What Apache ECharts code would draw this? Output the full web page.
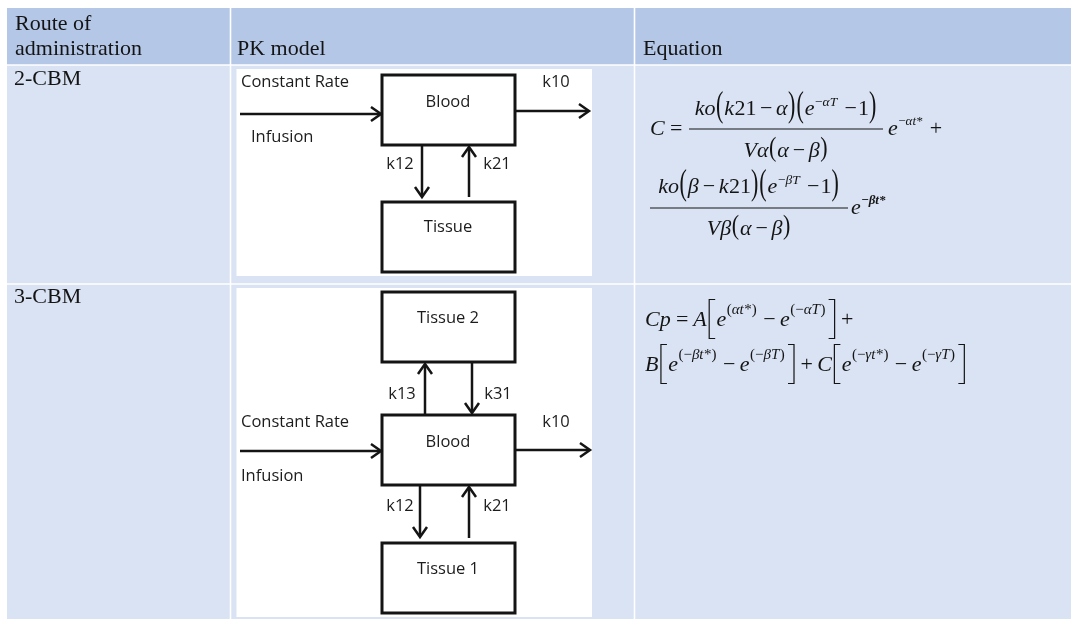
<!DOCTYPE html>
<html><head><meta charset="utf-8">
<script src="https://cdn.jsdelivr.net/npm/echarts@6/dist/echarts.min.js"></script>
<style>html,body{margin:0;padding:0;background:#fff}#c{width:1071px;height:619px}</style>
</head><body><div id="c"></div>
<script>
// ---------- content (text only) ----------
const headerCells = [["Route of", "administration"], ["PK model"], ["Equation"]];
const rowLabels = ["2-CBM", "3-CBM"];
const inputLabels = ["Constant Rate", "Infusion"];
const boxes2CBM = ["Blood", "Tissue"];
const rates2CBM = ["k10", "k12", "k21"];
const boxes3CBM = ["Tissue 2", "Blood", "Tissue 1"];
const rates3CBM = ["k13", "k31", "k10", "k12", "k21"];
const eq2CBM = ["C=", "ko(k21−α)(e^{−αT} −1)", "Vα(α−β)", "e^{−αt*} +",
                "ko(β−k21)(e^{−βT} −1)", "Vβ(α−β)", "e^{−βt*}"];
const eq3CBM = ["Cp=A[e^{(αt*)}−e^{(−αT)}]+", "B[e^{(−βt*)}−e^{(−βT)}]+C[e^{(−γt*)}−e^{(−γT)}]"];

// ---------- helpers ----------
const SERIF = "'Liberation Serif','Times New Roman',serif";
const SANS = "'Open Sans','Noto Sans',sans-serif";
const INK = '#141414';
const HEAD_BG = '#b4c7e7', BODY_BG = '#dae3f3';
const mc = document.createElement('canvas').getContext('2d');
function fnt(sz, it, bd, fam) { return (it ? 'italic' : 'normal') + ' ' + (bd ? 'bold' : 'normal') + ' ' + sz + 'px ' + fam; }
function W(t, f) { mc.font = f; mc.textBaseline = 'alphabetic'; return mc.measureText(t).width; }
function midOff(f) {
  mc.font = f; mc.textBaseline = 'alphabetic';
  const a = mc.measureText('H').actualBoundingBoxAscent;
  mc.textBaseline = 'middle';
  const b = mc.measureText('H').actualBoundingBoxAscent;
  mc.textBaseline = 'alphabetic';
  return a - b;
}
function txt(text, x, baseline, sz, it, bd, fam, align) {
  const f = fnt(sz, it, bd, fam);
  return { type: 'text', x: x, y: baseline - midOff(f), silent: true,
    style: { text: text, fontSize: sz, fontStyle: it ? 'italic' : 'normal', fontWeight: bd ? 'bold' : 'normal',
      fontFamily: fam, fill: INK, align: align || 'left', verticalAlign: 'middle' } };
}
function label(text, x, cy, align) {
  return { type: 'text', x: x, y: cy, silent: true,
    style: { text: text, fontSize: 16.5, fontFamily: SANS, fill: '#1c1c1c', align: align || 'center', verticalAlign: 'middle' } };
}

// ---- equation layout ----
const OPS = '−+=';
function tokenize(str, inSup) {
  const toks = []; let i = 0;
  while (i < str.length) {
    const c = str[i];
    if (c === '^' && str[i + 1] === '{') { const j = str.indexOf('}', i); toks.push({ k: 'sup', t: str.slice(i + 2, j) }); i = j + 1; continue; }
    if (!inSup && (c === '(' || c === ')')) toks.push({ k: 'paren', t: c });
    else if (c === '[' || c === ']') toks.push({ k: 'brk', t: c });
    else if (OPS.includes(c)) toks.push({ k: inSup ? 'rm' : 'op', t: c });
    else if (c === ' ') toks.push({ k: 'sp' });
    else if (/[0-9*()]/.test(c)) toks.push({ k: 'rm', t: c });
    else toks.push({ k: 'it', t: c });
    i++;
  }
  const merged = [];
  for (const t of toks) {
    const last = merged[merged.length - 1];
    if (last && (t.k === 'it' || t.k === 'rm') && last.k === t.k) last.t += t.t; else merged.push(Object.assign({}, t));
  }
  return merged;
}
function layoutExpr(str, cfg) {
  const items = []; let x = 0; let prev = null;
  for (const tk of tokenize(str, false)) {
    if (tk.k === 'sp') { x += cfg.F * 0.22; prev = tk; continue; }
    if (tk.k === 'it' || tk.k === 'rm') {
      const it = tk.k === 'it';
      items.push({ kind: 'txt', t: tk.t, x: x, sz: cfg.F, it: it, dy: 0 });
      x += W(tk.t, fnt(cfg.F, it, false, SERIF)) + (it ? 0.5 : 0);
    } else if (tk.k === 'op') {
      const g = cfg.F * (tk.t === '=' ? 0.22 : cfg.opGap);
      const unary = prev && prev.k === 'sp';
      x += unary ? 0 : g;
      items.push({ kind: 'txt', t: tk.t, x: x, sz: cfg.F, it: false, dy: 0 });
      x += W(tk.t, fnt(cfg.F, false, false, SERIF)) + (unary ? 1 : g);
    } else if (tk.k === 'paren') {
      const w = W(tk.t, fnt(cfg.F, false, false, SERIF));
      items.push({ kind: 'paren', t: tk.t, x: x, sz: cfg.F });
      x += w + 1;
    } else if (tk.k === 'brk') {
      const bw = cfg.F * cfg.brkW;
      items.push({ kind: 'brk', t: tk.t, x: x, w: bw });
      x += bw;
    } else if (tk.k === 'sup') {
      for (const st of tokenize(tk.t, true)) {
        const it = st.k === 'it';
        items.push({ kind: 'txt', t: st.t, x: x, sz: cfg.S, it: it, dy: cfg.supDy, bd: cfg.supBold });
        x += W(st.t, fnt(cfg.S, it, cfg.supBold, SERIF)) + (it ? 0.5 : 0);
      }
      x += 2;
    }
    prev = tk;
  }
  return { items: items, width: x };
}
function emitExpr(lay, x0, baseline, cfg, out) {
  const fr = fnt(cfg.F, false, false, SERIF);
  mc.font = fr; mc.textBaseline = 'alphabetic';
  const mm = mc.measureText('−');
  const axis = baseline + (mm.actualBoundingBoxDescent - mm.actualBoundingBoxAscent) / 2;
  for (const it of lay.items) {
    if (it.kind === 'txt') {
      out.push(txt(it.t, x0 + it.x, baseline + it.dy, it.sz, it.it, it.bd, SERIF));
    } else if (it.kind === 'paren') {
      const f = fnt(it.sz, false, false, SERIF);
      mc.font = f; mc.textBaseline = 'middle';
      const m = mc.measureText(it.t);
      mc.textBaseline = 'alphabetic';
      const yc = (m.actualBoundingBoxDescent - m.actualBoundingBoxAscent) / 2;
      const s = cfg.parenScale;
      out.push({ type: 'text', x: x0 + it.x, y: axis - s * yc, scaleY: s, silent: true,
        style: { text: it.t, fontSize: it.sz, fontFamily: SERIF, fill: INK, align: 'left', verticalAlign: 'middle' } });
    } else if (it.kind === 'brk') {
      const H = cfg.brkH, top = axis - H / 2, bot = axis + H / 2, ser = 6;
      let pts;
      if (it.t === '[') { const vx = x0 + it.x + 2; pts = [[vx + ser, top], [vx, top], [vx, bot], [vx + ser, bot]]; }
      else { const vx = x0 + it.x + it.w - 2; pts = [[vx - ser, top], [vx, top], [vx, bot], [vx - ser, bot]]; }
      out.push({ type: 'polyline', silent: true, shape: { points: pts }, style: { stroke: INK, lineWidth: 1.2, fill: null } });
    }
  }
}
function hline(x1, x2, y, w, c) { return { type: 'line', silent: true, shape: { x1: x1, y1: y, x2: x2, y2: y }, style: { stroke: c || INK, lineWidth: w } }; }
function vline(x, y1, y2, w, c) { return { type: 'line', silent: true, shape: { x1: x, y1: y1, x2: x, y2: y2 }, style: { stroke: c || INK, lineWidth: w } }; }
function fraction(num, den, x1, x2, barY, numBase, denBase, cfgN, cfgD, out) {
  out.push(hline(x1, x2, barY, 1.1));
  const ln = layoutExpr(num, cfgN), ld = layoutExpr(den, cfgD);
  const cx = (x1 + x2) / 2;
  emitExpr(ln, cx - ln.width / 2, numBase, cfgN, out);
  emitExpr(ld, cx - ld.width / 2, denBase, cfgD, out);
}
function box(x1, y1, x2, y2) {
  return { type: 'rect', silent: true, shape: { x: x1, y: y1, width: x2 - x1, height: y2 - y1 }, style: { fill: '#fff', stroke: INK, lineWidth: 3 } };
}
function arrow(x1, y1, x2, y2, out) {
  const dx = x2 - x1, dy = y2 - y1, L = Math.hypot(dx, dy), ux = dx / L, uy = dy / L, px = -uy, py = ux, hl = 10, hw = 7;
  out.push({ type: 'line', silent: true, shape: { x1: x1, y1: y1, x2: x2 - ux * 1, y2: y2 - uy * 1 }, style: { stroke: INK, lineWidth: 2.5 } });
  out.push({ type: 'polyline', silent: true, shape: { points: [[x2 - ux * hl + px * hw, y2 - uy * hl + py * hw], [x2, y2], [x2 - ux * hl - px * hw, y2 - uy * hl - py * hw]] },
    style: { stroke: INK, lineWidth: 2.5, fill: null, lineJoin: 'miter' } });
}

function build() {
  const els = [];
  // ---- table background ----
  const colX = [7, 230.5, 634.5, 1071], rowY = [8, 65, 284, 619];
  els.push({ type: 'rect', silent: true, shape: { x: colX[0], y: rowY[0], width: colX[3] - colX[0], height: rowY[3] - rowY[0] }, style: { fill: BODY_BG } });
  els.push({ type: 'rect', silent: true, shape: { x: colX[0], y: rowY[0], width: colX[3] - colX[0], height: rowY[1] - rowY[0] }, style: { fill: HEAD_BG } });
  els.push(vline(colX[1], rowY[0], rowY[3], 1.6, '#fff'));
  els.push(vline(colX[2], rowY[0], rowY[3], 1.6, '#fff'));
  els.push(hline(colX[0], colX[3], rowY[1], 1.6, '#fff'));
  els.push(hline(colX[0], colX[3], rowY[2], 1.6, '#fff'));

  // ---- header + row labels ----
  const HF = 22;
  els.push(txt(headerCells[0][0], 15, 30, HF, false, false, SERIF));
  els.push(txt(headerCells[0][1], 15, 55, HF, false, false, SERIF));
  els.push(txt(headerCells[1][0], 237, 55, HF, false, false, SERIF));
  els.push(txt(headerCells[2][0], 643, 55, HF, false, false, SERIF));
  els.push(txt(rowLabels[0], 14, 85, HF, false, false, SERIF));
  els.push(txt(rowLabels[1], 14, 303, HF, false, false, SERIF));

  // ---- diagram 1 (2-CBM) ----
  els.push({ type: 'rect', silent: true, shape: { x: 236.5, y: 69, width: 355.5, height: 207 }, style: { fill: '#fff' } });
  els.push(box(382, 75, 515, 145));
  els.push(box(382, 202, 515, 272));
  arrow(240, 114, 381, 114, els);
  arrow(516, 111, 589, 111, els);
  arrow(422, 146, 422, 197, els);
  arrow(469, 197, 469, 147, els);
  els.push(label(inputLabels[0], 241, 82, 'left'));
  els.push(label(inputLabels[1], 251, 137, 'left'));
  els.push(label(boxes2CBM[0], 448, 102));
  els.push(label(boxes2CBM[1], 448, 227));
  els.push(label(rates2CBM[0], 556, 82));
  els.push(label(rates2CBM[1], 400, 164));
  els.push(label(rates2CBM[2], 497, 164));

  // ---- diagram 2 (3-CBM) ----
  els.push({ type: 'rect', silent: true, shape: { x: 236.5, y: 288, width: 355.5, height: 329 }, style: { fill: '#fff' } });
  els.push(box(382, 292, 515, 362));
  els.push(box(382, 415, 515, 485));
  els.push(box(382, 543, 515, 613));
  arrow(425, 414, 425, 364, els);
  arrow(472, 363, 472, 413, els);
  arrow(420, 486, 420, 537, els);
  arrow(469, 538, 469, 487, els);
  arrow(240, 451, 381, 451, els);
  arrow(516, 450, 590, 450, els);
  els.push(label(boxes3CBM[0], 448, 318));
  els.push(label(boxes3CBM[1], 448, 442));
  els.push(label(boxes3CBM[2], 448, 569));
  els.push(label(rates3CBM[0], 402, 394));
  els.push(label(rates3CBM[1], 498, 394));
  els.push(label(inputLabels[0], 241, 422, 'left'));
  els.push(label(inputLabels[1], 241, 476, 'left'));
  els.push(label(rates3CBM[2], 556, 422));
  els.push(label(rates3CBM[3], 400, 506));
  els.push(label(rates3CBM[4], 497, 506));

  // ---- equation 1 ----
  const cN = { F: 22, S: 13.5, supDy: -9, parenScale: 1.6, opGap: 0.16 };
  const cD = { F: 22, S: 13.5, supDy: -9, parenScale: 1.25, opGap: 0.16 };
  const cA = { F: 22, S: 13, supDy: -10, parenScale: 1.2, opGap: 0.16 };
  const cB = { F: 22, S: 13, supDy: -10, parenScale: 1.2, opGap: 0.16, supBold: true };
  emitExpr(layoutExpr(eq2CBM[0], cA), 650, 134.5, cA, els);
  fraction(eq2CBM[1], eq2CBM[2], 689, 883, 129, 115, 157, cN, cD, els);
  emitExpr(layoutExpr(eq2CBM[3], cA), 888, 134.5, cA, els);
  fraction(eq2CBM[4], eq2CBM[5], 650, 848, 208, 193, 235, cN, cD, els);
  emitExpr(layoutExpr(eq2CBM[6], cB), 851, 213.5, cB, els);

  // ---- equation 2 ----
  const cE = { F: 22, S: 15, supDy: -12, parenScale: 1.2, brkH: 39, brkW: 0.42, opGap: 0.2 };
  emitExpr(layoutExpr(eq3CBM[0], cE), 645, 326, cE, els);
  emitExpr(layoutExpr(eq3CBM[1], cE), 645, 371, cE, els);

  const chart = echarts.init(document.getElementById('c'), null, { renderer: 'canvas', width: 1071, height: 619 });
  chart.setOption({ animation: false, backgroundColor: '#fff', graphic: { elements: els } });
}
const fontLoads = [
  "normal 22px 'Liberation Serif'", "italic 22px 'Liberation Serif'", "italic 14px 'Liberation Serif'",
  "bold 14px 'Liberation Serif'", "16px 'Open Sans'"
].map(f => document.fonts.load(f).catch(() => null));
Promise.race([Promise.all(fontLoads), new Promise(r => setTimeout(r, 1500))]).then(build);
</script>
</body></html>
